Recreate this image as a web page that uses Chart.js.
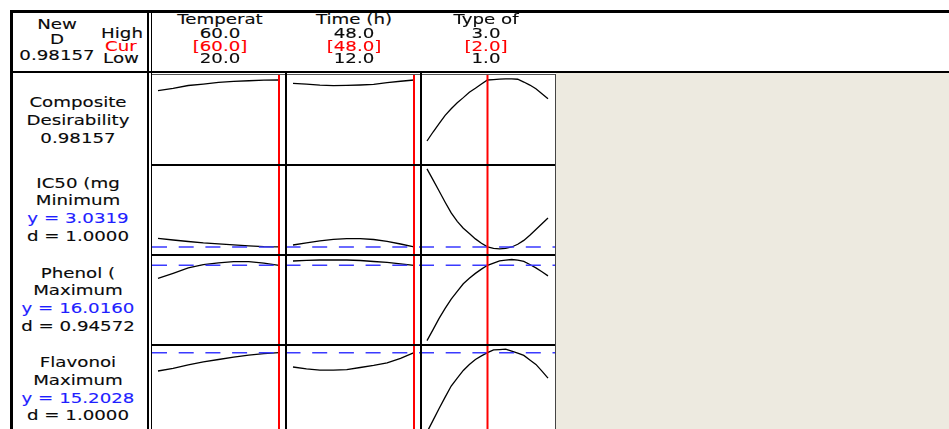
<!DOCTYPE html>
<html>
<head>
<meta charset="utf-8">
<script src="https://cdn.jsdelivr.net/npm/chart.js@4.4.1/dist/chart.umd.min.js"></script>
<style>
  html, body { margin: 0; padding: 0; background: #fff; overflow: hidden; }
  #stage { position: relative; width: 949px; height: 429px; overflow: hidden; background: #fff;
           font-family: "DejaVu Sans", Verdana, sans-serif; }
  #stage canvas { position: absolute; }
  .rule { position: absolute; background: #000; }
  .txt { position: absolute; white-space: nowrap; font-size: 13.7px; line-height: 1; color: #0a0a0a;
         -webkit-text-stroke: 0.12px currentColor;
         transform: translate(-50%, -50%) scaleX(1.33); }
</style>
</head>
<body>
<div id="stage"></div>
<script>
// ---- optimizer settings ----
const factorNames = ['Temperat', 'Time (h)', 'Type of'];
const factorHigh  = [60, 48, 3];
const factorCur   = [60, 48, 2];
const factorLow   = [20, 12, 1];

const compositeD    = 0.98157;
const responseNames = ['IC50 (mg', 'Phenol (', 'Flavonoi'];
const responseGoals = ['Minimum', 'Maximum', 'Maximum'];
const responseY     = [3.0319, 16.0160, 15.2028];
const responseD     = [1.0000, 0.94572, 1.0000];

// ---- factor levels where each response trace is evaluated ----
const tempLevels = [20, 25, 30, 35, 40, 45, 50, 55, 60];
const timeLevels = [12, 16, 20, 24, 28, 32, 36, 40, 44, 48];
const typeLevels = [1.0, 1.1, 1.2, 1.3, 1.4, 1.5, 1.6, 1.7, 1.8, 1.9, 2.0,
                    2.1, 2.2, 2.3, 2.4, 2.5, 2.6, 2.7, 2.8, 2.9, 3.0];

// composite desirability traces
const compTemp = [0.858, 0.886, 0.918, 0.935, 0.953, 0.965, 0.973, 0.979, 0.98157];
const compTime = [0.943, 0.935, 0.923, 0.917, 0.919, 0.924, 0.932, 0.951, 0.967, 0.98157];
const compType = [0.277, 0.381, 0.479, 0.574, 0.649, 0.718, 0.778, 0.841, 0.886, 0.935, 0.98157,
                  0.987, 0.992, 0.994, 0.994, 0.990, 0.958, 0.923, 0.880, 0.822, 0.764];

// IC50 traces
const ic50Temp = [3.387, 3.317, 3.255, 3.197, 3.156, 3.115, 3.074, 3.045, 3.0319];
const ic50Time = [3.111, 3.202, 3.280, 3.341, 3.374, 3.374, 3.337, 3.263, 3.152, 3.0319];
const ic50Type = [6.24, 5.79, 5.33, 4.87, 4.43, 4.085, 3.798, 3.58, 3.362, 3.181, 3.0319,
                  2.971, 2.955, 2.975, 3.03, 3.14, 3.30, 3.514, 3.748, 3.987, 4.221];

// phenol traces
const phenolTemp = [14.21, 14.91, 15.66, 16.11, 16.36, 16.53, 16.53, 16.31, 16.016];
const phenolTime = [16.61, 16.71, 16.75, 16.75, 16.75, 16.68, 16.54, 16.43, 16.21, 16.016];
const phenolType = [5.61, 7.13, 8.68, 10.05, 11.34, 12.42, 13.46, 14.23, 14.90, 15.49, 16.016,
                    16.33, 16.64, 16.73, 16.82, 16.72, 16.56, 16.13, 15.66, 15.12, 14.56];

// flavonoid traces
const flavTemp = [12.96, 13.29, 13.72, 14.08, 14.37, 14.65, 14.91, 15.08, 15.2028];
const flavTime = [13.45, 13.21, 13.08, 13.08, 13.12, 13.39, 13.65, 13.95, 14.52, 15.2028];
const flavType = [5.47, 6.91, 8.37, 9.76, 11.12, 12.10, 13.03, 13.76, 14.38, 14.82, 15.2028,
                  15.55, 15.59, 15.63, 15.39, 15.14, 14.87, 14.32, 13.77, 12.94, 12.08];

// ---- layout ----
const stage = document.getElementById('stage');
const RED = '#ff0000', BLUE = '#1f1fff';
const colLeft = [152, 287, 421], colW = 134;
const rowTop = [74, 165, 255, 345], rowH = [91, 90, 90, 91];
const inset = 6, span = 121;                 // pixels from panel edge to low level, low->high width
const rowRange = [[0, 1.0508], [2.7, 6.4], [5, 17.44], [5, 16.146]];

const levels = [tempLevels, timeLevels, typeLevels];
const traces = [
  [compTemp, compTime, compType],
  [ic50Temp, ic50Time, ic50Type],
  [phenolTemp, phenolTime, phenolType],
  [flavTemp, flavTime, flavType]
];

// red current-setting line and blue dashed predicted-response line
const guideLines = {
  id: 'guideLines',
  afterDatasetsDraw(chart, _args, o) {
    const { ctx, scales } = chart;
    ctx.save();
    if (o.hasTarget) {
      const py = scales.y.getPixelForValue(o.target);
      ctx.strokeStyle = '#3a3aff';
      ctx.lineWidth = 1.4;
      ctx.setLineDash([15, 11.7]);
      ctx.lineDashOffset = o.dashPhase;
      ctx.beginPath(); ctx.moveTo(0, py); ctx.lineTo(chart.width, py); ctx.stroke();
      ctx.setLineDash([]);
    }
    const px = scales.x.getPixelForValue(o.current);
    ctx.strokeStyle = RED;
    ctx.lineWidth = 2;
    ctx.beginPath(); ctx.moveTo(px, 0); ctx.lineTo(px, chart.height); ctx.stroke();
    ctx.restore();
  }
};

for (let r = 0; r < 4; r++) {
  for (let c = 0; c < 3; c++) {
    const cv = document.createElement('canvas');
    cv.width = colW; cv.height = rowH[r];
    cv.style.left = colLeft[c] + 'px'; cv.style.top = rowTop[r] + 'px';
    cv.style.width = colW + 'px'; cv.style.height = rowH[r] + 'px';
    stage.appendChild(cv);
    const unit = (factorHigh[c] - factorLow[c]) / span;
    const xMin = factorLow[c] - inset * unit;
    new Chart(cv, {
      type: 'line',
      data: {
        datasets: [{
          data: levels[c].map((v, i) => ({ x: v, y: traces[r][c][i] })),
          borderColor: '#000', borderWidth: 1.3, pointRadius: 0, tension: 0, fill: false
        }]
      },
      options: {
        responsive: false, animation: false, events: [], devicePixelRatio: 1,
        layout: { padding: 0 },
        plugins: {
          legend: { display: false }, tooltip: { enabled: false },
          guideLines: {
            hasTarget: r > 0, target: r > 0 ? responseY[r - 1] : 0,
            current: factorCur[c], dashPhase: colLeft[c] - colLeft[0]
          }
        },
        scales: {
          x: { type: 'linear', display: false, min: xMin, max: xMin + colW * unit },
          y: { type: 'linear', display: false, min: rowRange[r][0], max: rowRange[r][1] }
        }
      },
      plugins: [guideLines]
    });
  }
}

// ---- frame rules ----
function rule(x, y, w, h, color) {
  const d = document.createElement('div');
  d.className = 'rule';
  Object.assign(d.style, { left: x + 'px', top: y + 'px', width: w + 'px', height: h + 'px' });
  if (color) d.style.background = color;
  stage.appendChild(d);
}
const beige = document.createElement('div');
Object.assign(beige.style, { position: 'absolute', left: '556px', top: '73px', width: '393px', height: '356px', background: '#edeae0' });
stage.appendChild(beige);

rule(10, 10, 939, 2.5);          // top border
rule(10, 10, 2.5, 419);          // left border
rule(147, 11, 1.5, 418);         // label column, double rule
rule(151, 11, 1.3, 418);
rule(10, 71.3, 939, 1.5);        // header bottom
rule(152, 74, 404, 1, '#555');   // panel top
rule(555, 74, 1.2, 355, '#444'); // panel right
rule(285, 72, 2, 357);           // factor column separators
rule(420, 72, 2, 357);
rule(152, 164.3, 403, 1.5);      // response row separators
rule(152, 254.3, 403, 1.5);
rule(152, 344.3, 403, 2);

// ---- text ----
function addText(str, cx, cy, color) {
  const d = document.createElement('div');
  d.className = 'txt';
  d.textContent = str;
  d.style.left = cx + 'px';
  d.style.top = cy + 'px';
  if (color) d.style.color = color;
  stage.appendChild(d);
}

addText('New', 56.7, 25.3);
addText('D', 57, 39.7);
addText(compositeD.toPrecision(5), 56.7, 55.5);
addText('High', 121.7, 34.3);
addText('Cur', 121.3, 47, RED);
addText('Low', 121, 59.3);

const headerCx = [220, 354, 486];
factorNames.forEach((name, i) => {
  addText(name, headerCx[i], 20);
  addText(factorHigh[i].toFixed(1), headerCx[i], 34.3);
  addText('[' + factorCur[i].toFixed(1) + ']', headerCx[i], 47, RED);
  addText(factorLow[i].toFixed(1), headerCx[i], 58.8);
});

const labelCx = 78.3, lineStep = 17.7;
const labelCy = [121, 210.2, 300.1, 389.7];
const rowLines = [
  [['Composite'], ['Desirability'], [compositeD.toPrecision(5)]]
];
responseNames.forEach((name, i) => {
  rowLines.push([
    [name], [responseGoals[i]],
    ['y = ' + responseY[i].toFixed(4), BLUE],
    ['d = ' + responseD[i].toPrecision(5)]
  ]);
});
rowLines.forEach((lines, r) => {
  const n = lines.length;
  lines.forEach(([s, col], i) => addText(s, labelCx, labelCy[r] + (i - (n - 1) / 2) * lineStep, col));
});
</script>
</body>
</html>
